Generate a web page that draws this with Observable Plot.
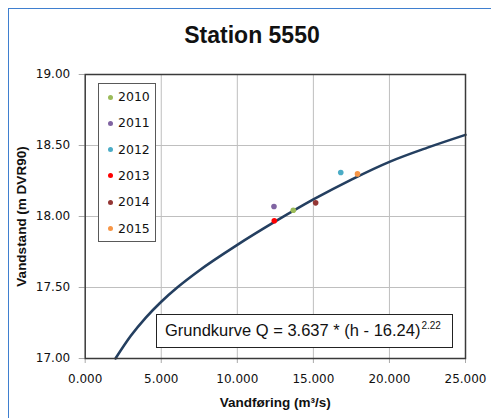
<!DOCTYPE html>
<html>
<head>
<meta charset="utf-8">
<script src="https://cdn.jsdelivr.net/npm/d3@7"></script>
<script src="https://cdn.jsdelivr.net/npm/@observablehq/plot@0.6"></script>
<style>
  html, body { margin: 0; padding: 0; background: #fff; }
  #wrap { position: relative; width: 491px; height: 418px; overflow: hidden; font-family: "Liberation Sans", Arial, sans-serif; }
  #border { position: absolute; left: 8px; top: 8px; width: 600px; height: 600px; border-left: 1.5px solid #3f7fcf; border-top: 1.5px solid #3f7fcf; box-sizing: border-box; }
  #chart { position: absolute; left: 0; top: 0; }
  #title { position: absolute; left: 0; width: 504px; top: 22px; text-align: center; font-weight: bold; font-size: 23px; color: #111; }
  #legend { position: absolute; left: 98px; top: 83px; width: 58px; height: 159px; border: 1px solid #595959; background: #fff; box-sizing: border-box; }
  .item { position: absolute; left: 0; height: 16px; font-family: "DejaVu Sans", sans-serif; font-size: 12.5px; color: #111; line-height: 16px; }
  .dot { position: absolute; left: 9px; top: 5.5px; width: 5px; height: 5px; border-radius: 50%; }
  .lab { position: absolute; left: 19px; top: 0; white-space: nowrap; }
  #formula { position: absolute; left: 156px; top: 314px; width: 297px; height: 34px; border: 1.5px solid #222; background: #fff; box-sizing: border-box; font-size: 16.5px; color: #111; line-height: 31px; padding-left: 8px; white-space: nowrap; }
  #formula sup { font-size: 10px; vertical-align: 0; position: relative; top: -7px; margin-left: 1px; }
  svg [aria-label="x-axis label"] text, svg [aria-label="y-axis label"] text { font-weight: bold; }
</style>
</head>
<body>
<div id="wrap">
  <div id="border"></div>
  <div id="chart"></div>
  <div id="title">Station 5550</div>
  <div id="legend"></div>
  <div id="formula"></div>
</div>
<script>
// ---- data ----
const years = ["2010", "2011", "2012", "2013", "2014", "2015"];
const yearColors = ["#9bbb59", "#8064a2", "#4bacc6", "#ff0000", "#943634", "#f79646"];
const pointQ = [13.68, 12.41, 16.80, 12.43, 15.15, 17.90];   // Vandføring m³/s
const pointH = [18.044, 18.07, 18.31, 17.97, 18.096, 18.30]; // Vandstand m DVR90

// rating curve
const curveQ = [1.99, 3.0, 4.0, 5.0, 6.05, 7.5, 10.0, 12.5, 15.0, 17.5, 20.0, 22.5, 25.0];
const curveH = [17.00, 17.16, 17.29, 17.40, 17.50, 17.62, 17.80, 17.965, 18.12, 18.26, 18.385, 18.485, 18.575];

const xTicks = [0, 5, 10, 15, 20, 25];
const yTicks = [17.0, 17.5, 18.0, 18.5, 19.0];

const titleText = "Station 5550";
const xLabel = "Vandføring (m³/s)";
const yLabel = "Vandstand (m DVR90)";
const formulaText = "Grundkurve Q = 3.637 * (h - 16.24)";
const formulaExp = "2.22";

// ---- build tables ----
const points = years.map((y, i) => ({year: y, Q: pointQ[i], h: pointH[i]}));
const curve = curveQ.map((q, i) => ({Q: q, h: curveH[i]}));

const plot = Plot.plot({
  width: 491,
  height: 418,
  marginLeft: 84.7,
  marginRight: 26,
  marginTop: 74,
  marginBottom: 60,
  style: {fontFamily: "DejaVu Sans, sans-serif", fontSize: "12px", color: "#111", background: "transparent"},
  x: {domain: [0, 25]},
  y: {domain: [17, 19]},
  color: {domain: years, range: yearColors},
  marks: [
    Plot.gridX(xTicks.slice(1, -1), {stroke: "#bfbfbf", strokeOpacity: 1, strokeWidth: 1}),
    Plot.gridY(yTicks.slice(1, -1), {stroke: "#bfbfbf", strokeOpacity: 1, strokeWidth: 1}),
    Plot.axisX({ticks: xTicks, tickFormat: d3.format(".3f"), tickSize: 5, tickPadding: 11, stroke: "#aaa",
      label: xLabel, labelAnchor: "center", labelArrow: "none", labelOffset: 48, fontSize: 12}),
    Plot.axisY({ticks: yTicks, tickFormat: d3.format(".2f"), tickSize: 6, tickPadding: 9, stroke: "#aaa",
      label: yLabel, labelAnchor: "center", labelArrow: "none", labelOffset: 69, fontSize: 12}),
    Plot.line(curve, {x: "Q", y: "h", stroke: "#243f60", strokeWidth: 2.6, curve: "monotone-x"}),
    Plot.dot(points, {x: "Q", y: "h", fill: "year", r: 2.8}),
    Plot.frame({stroke: "#3a3a3a", strokeWidth: 1.5})
  ]
});
document.getElementById("chart").appendChild(plot);

// axis label font
plot.querySelectorAll('[aria-label="x-axis label"] text, [aria-label="y-axis label"] text').forEach(t => {
  t.setAttribute("font-size", "13.5");
  t.style.fontFamily = "Liberation Sans, Arial, sans-serif";
});

document.getElementById("title").textContent = titleText;

// legend
const legend = document.getElementById("legend");
years.forEach((y, i) => {
  const it = document.createElement("div");
  it.className = "item";
  it.style.top = (5 + i * 26.3) + "px";
  const d = document.createElement("div");
  d.className = "dot";
  d.style.background = yearColors[i];
  const l = document.createElement("div");
  l.className = "lab";
  l.textContent = y;
  it.appendChild(d); it.appendChild(l);
  legend.appendChild(it);
});

// formula box
const f = document.getElementById("formula");
f.appendChild(document.createTextNode(formulaText));
const sup = document.createElement("sup");
sup.textContent = formulaExp;
f.appendChild(sup);
</script>
</body>
</html>
